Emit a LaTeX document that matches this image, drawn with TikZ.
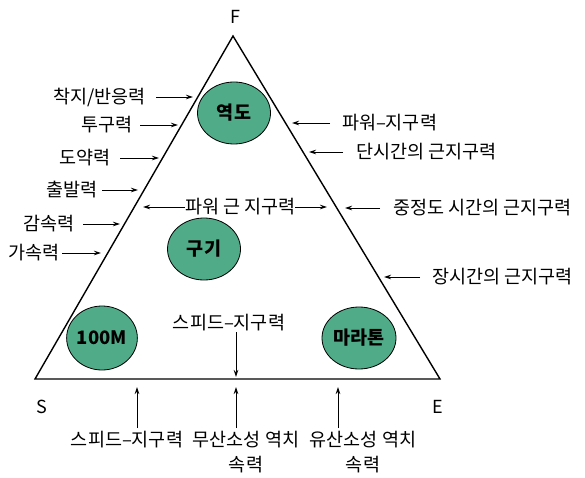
\documentclass[tikz,border=0pt]{standalone}
\usepackage{fontspec}
\setmainfont{Noto Sans CJK KR}
\usetikzlibrary{shapes.geometric,arrows.meta}
\definecolor{blobgreen}{RGB}{80,172,136}
\begin{document}
\begin{tikzpicture}[x=1pt,y=-1pt,
  lbl/.style={font=\fontsize{18.5}{25}\selectfont, inner sep=0pt, outer sep=0pt},
  blob/.style={ellipse, draw=black, line width=0.8pt, fill=blobgreen,
    minimum width=73pt, minimum height=62pt, inner sep=0pt,
    font=\fontsize{18.5}{20}\selectfont\bfseries},
  arr/.style={-{Stealth[length=7pt,width=4.5pt]}, line width=0.9pt},
  tri/.style={line width=1.4pt, line join=miter}]
\useasboundingbox (0,0) rectangle (585,478);
% triangle
\coordinate (F) at (233,36);
\coordinate (S) at (35,379);
\coordinate (E) at (440,379);
\draw[tri] (F) -- (S) -- (E) -- cycle;
\node[lbl,font=\fontsize{18}{20}\selectfont] (fl) at (235,17) {F};
\node[lbl,font=\fontsize{18}{20}\selectfont] (sl) at (42,407) {S};
\node[lbl,font=\fontsize{18}{20}\selectfont] (el) at (438,407) {E};
% ellipses
\node[blob] (yd) at (234,113) {역도};
\node[blob] (gg) at (204,249) {구기};
\node[blob, minimum width=66pt, minimum height=64pt] (hm) at (102,338) {100M};
\node[blob, minimum width=74pt] (mr) at (359,338) {마라톤};
% left labels
\node[lbl,anchor=east] (l1) at (146,97) {착지/반응력};
\node[lbl,anchor=east] (l2) at (133,125) {투구력};
\node[lbl,anchor=east] (l3) at (111,158) {도약력};
\node[lbl,anchor=east] (l4) at (98,190) {출발력};
\node[lbl,anchor=east] (l5) at (75,224) {감속력};
\node[lbl,anchor=east] (l6) at (60,253) {가속력};
\coordinate (t1) at (193,97);
\coordinate (t2) at (178,125);
\coordinate (t3) at (159,158);
\coordinate (t4) at (138,190);
\coordinate (t5) at (120,224);
\coordinate (t6) at (101,253);
\draw[arr] ([xshift=10pt]l1.east) -- (t1);
\draw[arr] ([xshift=7pt]l2.east) -- (t2);
\draw[arr] ([xshift=9pt]l3.east) -- (t3);
\draw[arr] ([xshift=4pt]l4.east) -- (t4);
\draw[arr] ([xshift=8pt]l5.east) -- (t5);
\draw[arr] ([xshift=2pt]l6.east) -- (t6);
% right labels
\node[lbl,anchor=west] (r1) at (342,123) {파워–지구력};
\node[lbl,anchor=west] (r2) at (356,152) {단시간의 근지구력};
\node[lbl,anchor=west] (r3) at (393,208) {중정도 시간의 근지구력};
\node[lbl,anchor=west] (r4) at (432,277) {장시간의 근지구력};
\coordinate (u1) at (292,123);
\coordinate (u2) at (309,152);
\coordinate (u3) at (345,208);
\coordinate (u4) at (384,277);
\draw[arr] ([xshift=-12pt]r1.west) -- (u1);
\draw[arr] ([xshift=-13pt]r2.west) -- (u2);
\draw[arr] ([xshift=-13pt]r3.west) -- (u3);
\draw[arr] ([xshift=-12pt]r4.west) -- (u4);
% inner labels
\node[lbl,anchor=west] (pw) at (185,207) {파워 근 지구력};
\coordinate (pl) at (143,207);
\coordinate (pr) at (327,207);
\draw[arr] (pw.west) -- (pl);
\draw[arr] (pw.east) -- (pr);
\node[lbl] (sp) at (229,323) {스피드–지구력};
\coordinate (m2) at (236,377);
\draw[arr] ([yshift=-1pt]sp.south -| m2) -- (m2);
% bottom labels
\node[lbl,anchor=north,align=center] (lb1) at (127,431) {스피드–지구력};
\node[lbl,anchor=north,align=center] (lb2) at (246,431) {무산소성 역치\\속력};
\node[lbl,anchor=north,align=center] (lb3) at (363,431) {유산소성 역치\\속력};
\coordinate (b1) at (137,387);
\coordinate (b2) at (236,387);
\coordinate (b3) at (338,387);
\draw[arr] ([yshift=3pt]lb1.north -| b1) -- (b1);
\draw[arr] ([yshift=3pt]lb2.north -| b2) -- (b2);
\draw[arr] ([yshift=3pt]lb3.north -| b3) -- (b3);
\end{tikzpicture}
\end{document}
